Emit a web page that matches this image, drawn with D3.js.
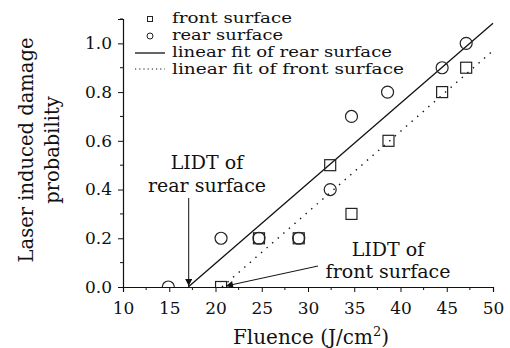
<!DOCTYPE html>
<html><head><meta charset="utf-8">
<script src="https://cdn.jsdelivr.net/npm/d3@7"></script>
<style>body{margin:0;background:#fff}svg{display:block}text{font-family:"DejaVu Serif",serif;fill:#111}</style>
</head><body>
<svg id="c" width="510" height="348"></svg>
<script>
// Data
const frontFluence = [20.6, 24.7, 29.0, 32.4, 34.7, 38.7, 44.5, 47.1];
const frontProb    = [0.0, 0.2, 0.2, 0.5, 0.3, 0.6, 0.8, 0.9];
const rearFluence  = [14.9, 20.6, 24.7, 29.0, 32.4, 34.7, 38.6, 44.5, 47.1];
const rearProb     = [0.0, 0.2, 0.2, 0.2, 0.4, 0.7, 0.8, 0.9, 1.0];
const rearFitX = [17.05, 50];
const rearFitY = [0, 1.083];
const frontFitX = [20.7, 50];
const frontFitY = [0, 0.97];
const xTicks = [10, 15, 20, 25, 30, 35, 40, 45, 50];
const yTicks = [0.0, 0.2, 0.4, 0.6, 0.8, 1.0];
const legendLabels = ["front surface", "rear surface", "linear fit of rear surface", "linear fit of front surface"];

const svg = d3.select("#c");
const x = d3.scaleLinear().domain([10, 50]).range([123, 493]);
const y = d3.scaleLinear().domain([0, 1.1]).range([287, 19]);

const defs = svg.append("defs");
defs.append("marker").attr("id","arr").attr("viewBox","0 0 10 10").attr("refX",10).attr("refY",5)
  .attr("markerWidth",9).attr("markerHeight",7).attr("markerUnits","userSpaceOnUse").attr("orient","auto")
  .append("path").attr("d","M0,0 L10,5 L0,10 z").attr("fill","#111");

// fit lines
const line = d3.line().x(d=>x(d[0])).y(d=>y(d[1]));
svg.append("path").datum(d3.zip(rearFitX, rearFitY)).attr("d", line).attr("stroke","#111").attr("stroke-width",1.3).attr("fill","none");
svg.append("path").datum(d3.zip(frontFitX, frontFitY)).attr("d", line).attr("stroke","#111").attr("stroke-width",1.4).attr("stroke-dasharray","1.4,6").attr("fill","none");

// points (clipped at the x axis)
defs.append("clipPath").attr("id","plot").append("rect").attr("x",100).attr("y",0).attr("width",410).attr("height",287);
const pts = svg.append("g").attr("clip-path","url(#plot)");
pts.selectAll(".sq").data(d3.zip(frontFluence, frontProb)).enter().append("rect")
  .attr("x",d=>x(d[0])-5.5).attr("y",d=>y(d[1])-5.5).attr("width",11).attr("height",11)
  .attr("fill","none").attr("stroke","#222").attr("stroke-width",1.2);
pts.selectAll(".ci").data(d3.zip(rearFluence, rearProb)).enter().append("circle")
  .attr("cx",d=>x(d[0])).attr("cy",d=>y(d[1])).attr("r",6)
  .attr("fill","none").attr("stroke","#222").attr("stroke-width",1.2);

// axes
const xAxis = d3.axisBottom(x).tickValues(xTicks).tickFormat(d3.format("d")).tickSize(5).tickPadding(10);
const gx = svg.append("g").attr("transform","translate(0,287)").call(xAxis);
gx.selectAll(".tick text").attr("font-size",17).attr("font-family","DejaVu Serif").attr("fill","#111");
const xMinor = d3.range(12.5, 50, 5);
gx.selectAll(".minor").data(xMinor).enter().append("line").attr("x1",d=>x(d)).attr("x2",d=>x(d)).attr("y1",0).attr("y2",3).attr("stroke","#111");

const yAxis = d3.axisLeft(y).tickValues(yTicks).tickFormat(d3.format(".1f")).tickSize(5).tickPadding(6);
const gy = svg.append("g").attr("transform","translate(123,0)").call(yAxis);
gy.selectAll(".tick text").attr("font-size",17).attr("font-family","DejaVu Serif").attr("fill","#111");
const yMinor = [0.1,0.3,0.5,0.7,0.9,1.1];
gy.selectAll(".minor").data(yMinor).enter().append("line").attr("x1",0).attr("x2",-3).attr("y1",d=>y(d)).attr("y2",d=>y(d)).attr("stroke","#111");
svg.selectAll(".domain").attr("stroke","#111").attr("stroke-width",1.2);
svg.selectAll(".tick line").attr("stroke","#111");

// legend
const lg = svg.append("g");
const ly = [19, 36, 53, 70];
const lw = [120, 111, 220, 232];
lg.append("rect").attr("x",147.5).attr("y",ly[0]-2.5).attr("width",5).attr("height",5).attr("fill","none").attr("stroke","#222");
lg.append("circle").attr("cx",150).attr("cy",ly[1]).attr("r",3).attr("fill","none").attr("stroke","#222");
lg.append("line").attr("x1",135).attr("x2",165).attr("y1",ly[2]).attr("y2",ly[2]).attr("stroke","#111").attr("stroke-width",1.3);
lg.append("line").attr("x1",135).attr("x2",165).attr("y1",ly[3]-1).attr("y2",ly[3]-1).attr("stroke","#111").attr("stroke-width",1.2).attr("stroke-dasharray","1.2,3");
lg.selectAll("text").data(legendLabels).enter().append("text")
  .attr("x",172).attr("y",(d,i)=>ly[i]+4).attr("font-size",14.5)
  .attr("textLength",(d,i)=>lw[i]).attr("lengthAdjust","spacingAndGlyphs").text(d=>d);

// annotations
svg.append("line").attr("x1",188.7).attr("y1",198).attr("x2",188.7).attr("y2",286).attr("stroke","#111").attr("marker-end","url(#arr)");
svg.append("line").attr("x1",318).attr("y1",266).attr("x2",226).attr("y2",286).attr("stroke","#111").attr("marker-end","url(#arr)");
const a1 = svg.append("text").attr("text-anchor","middle").attr("font-size",19);
a1.append("tspan").attr("x",207).attr("y",169).text("LIDT of");
a1.append("tspan").attr("x",207).attr("y",192).text("rear surface");
const a2 = svg.append("text").attr("text-anchor","middle").attr("font-size",19);
a2.append("tspan").attr("x",388).attr("y",256).text("LIDT of");
a2.append("tspan").attr("x",388).attr("y",278).text("front surface");

// axis titles
svg.append("text").attr("x",311).attr("y",344).attr("text-anchor","middle").attr("font-size",20)
  .html('Fluence (J/cm<tspan dy="-8" font-size="13">2</tspan><tspan dy="8">)</tspan>');
const yt = svg.append("text").attr("transform","translate(0,150) rotate(-90)").attr("text-anchor","middle").attr("font-size",19.5);
yt.append("tspan").attr("x",0).attr("y",33).text("Laser induced damage");
yt.append("tspan").attr("x",0).attr("y",59).text("probability");
</script>
</body></html>
